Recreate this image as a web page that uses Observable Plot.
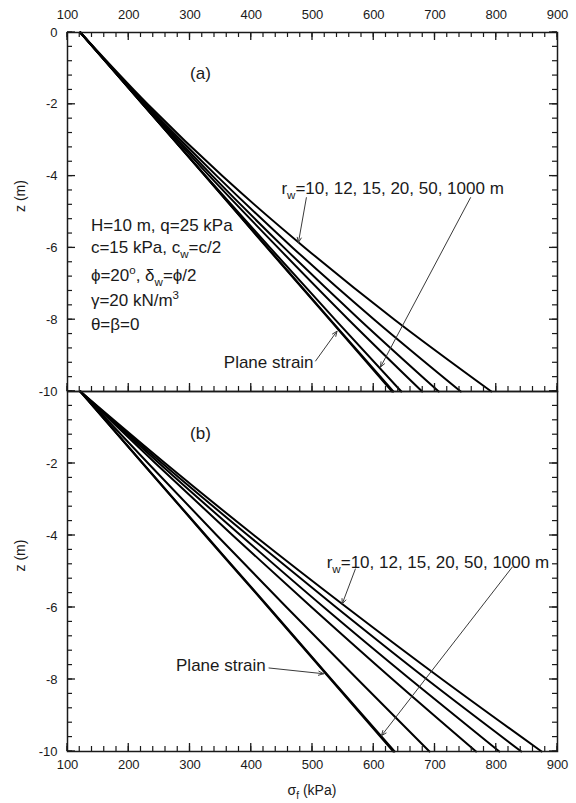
<!DOCTYPE html>
<html>
<head>
<meta charset="utf-8">
<script src="https://cdn.jsdelivr.net/npm/d3@7"></script>
<script src="https://cdn.jsdelivr.net/npm/@observablehq/plot@0.6"></script>
<style>
  body { margin: 0; background: #fff; }
  #fig { position: relative; width: 576px; height: 803px; background: #fff; }
  #fig svg { position: absolute; left: 0; }
</style>
</head>
<body>
<div id="fig"></div>
<script>
// Depth z (m) at which each curve is sampled
const depth = [0, -2, -4, -6, -8, -10];

// Curve order: plane strain, then wall radius r_w = 1000, 50, 20, 15, 12, 10 m
const curveNames = ["Plane strain", "1000", "50", "20", "15", "12", "10"];

// (a) passive pressure sigma_f (kPa)
const aPlaneStrain = [121, 223, 325, 426, 528, 630];
const aRw1000 = [121, 223, 325, 427, 529, 632];
const aRw50 = [121, 223, 326, 431, 537, 645];
const aRw20 = [121, 225, 332, 444, 559, 679];
const aRw15 = [121, 226, 337, 454, 577, 706];
const aRw12 = [121, 228, 344, 468, 601, 742];
const aRw10 = [121, 231, 353, 488, 634, 792];

// (b) passive pressure sigma_f (kPa)
const bPlaneStrain = [121, 223, 325, 428, 530, 632];
const bRw1000 = [121, 223, 326, 429, 531, 634];
const bRw50 = [121, 232, 344, 458, 574, 691];
const bRw20 = [121, 244, 370, 499, 631, 767];
const bRw15 = [121, 250, 383, 519, 660, 805];
const bRw12 = [121, 255, 395, 539, 687, 841];
const bRw10 = [121, 260, 405, 556, 712, 874];

// Axis ticks
const xTickLabels = [100, 200, 300, 400, 500, 600, 700, 800, 900];
const yTickLabelsA = [0, -2, -4, -6, -8, -10];
const yTickLabelsB = [-2, -4, -6, -8, -10];
const xMinorTicks = d3.range(100, 901, 20);
const yMinorTicks = d3.range(0, 26).map(i => -i * 0.4);

const FONT = "'Liberation Sans', Arial, Helvetica, sans-serif";
const INK = "#1a1a1a";

function rows(columns) {
  return columns.flatMap((vals, k) =>
    vals.map((s, i) => ({curve: curveNames[k], z: depth[i], s})));
}

const dataA = rows([aPlaneStrain, aRw1000, aRw50, aRw20, aRw15, aRw12, aRw10]);
const dataB = rows([bPlaneStrain, bRw1000, bRw50, bRw20, bRw15, bRw12, bRw10]);

const yFormat = d => String(d);
const curveStyle = {x: "s", y: "z", z: "curve", stroke: "#000", strokeWidth: 2, curve: "monotone-y"};
const arrowStyle = {x1: "x1", y1: "y1", x2: "x2", y2: "y2", stroke: "#3a3a3a", strokeWidth: 1, headLength: 8, headAngle: 45};

const chartA = Plot.plot({
  width: 576, height: 410,
  marginTop: 32, marginBottom: 19, marginLeft: 67, marginRight: 19,
  style: {background: "transparent", fontFamily: FONT, fontSize: "13px", color: INK},
  x: {domain: [100, 900]},
  y: {domain: [-10, 0]},
  marks: [
    Plot.line(dataA, curveStyle),
    Plot.arrow([
      {x1: 490, y1: -4.6, x2: 477, y2: -5.85},
      {x1: 758, y1: -4.6, x2: 611, y2: -9.32},
      {x1: 505, y1: -9.15, x2: 540, y2: -8.32}
    ], arrowStyle),
    Plot.frame({stroke: INK, strokeWidth: 1.5}),
    Plot.axisX({anchor: "top", ticks: xTickLabels, tickSize: 0, tickPadding: 14, label: null, fill: INK}),
    Plot.axisY({anchor: "left", ticks: yTickLabelsA, tickSize: 0, tickPadding: 10, tickFormat: yFormat, label: null, fill: INK}),
    Plot.text(["z (m)"], {frameAnchor: "left", dx: -47, rotate: -90, fontSize: 14, fill: INK})
  ]
});

const chartB = Plot.plot({
  width: 576, height: 422,
  marginTop: 10, marginBottom: 52, marginLeft: 67, marginRight: 19,
  style: {background: "transparent", fontFamily: FONT, fontSize: "13px", color: INK},
  x: {domain: [100, 900]},
  y: {domain: [-10, 0]},
  marks: [
    Plot.line(dataB, curveStyle),
    Plot.arrow([
      {x1: 570, y1: -4.93, x2: 548.5, y2: -5.9},
      {x1: 826, y1: -4.88, x2: 612.6, y2: -9.56},
      {x1: 429, y1: -7.68, x2: 518, y2: -7.84}
    ], arrowStyle),
    Plot.frame({stroke: INK, strokeWidth: 1.5}),
    Plot.axisX({anchor: "bottom", ticks: xTickLabels, tickSize: 0, tickPadding: 8, label: null, fill: INK}),
    Plot.axisY({anchor: "left", ticks: yTickLabelsB, tickSize: 0, tickPadding: 10, tickFormat: yFormat, label: null, fill: INK}),
    Plot.text(["z (m)"], {frameAnchor: "left", dx: -47, rotate: -90, fontSize: 14, fill: INK})
  ]
});

// Inward tick strokes on the frame edges, positioned with the chart's scales
function drawTicks(chart, {top = false, bottom = true}) {
  const sx = chart.scale("x"), sy = chart.scale("y");
  const x0 = sx.apply(100), x1 = sx.apply(900);
  const yTop = sy.apply(0), yBot = sy.apply(-10);
  const g = d3.select(chart).append("g").attr("stroke", INK).attr("fill", "none");
  const tick = (xa, ya, xb, yb, w) =>
    g.append("line").attr("x1", xa).attr("y1", ya).attr("x2", xb).attr("y2", yb).attr("stroke-width", w);
  for (const [vals, len, w] of [[yMinorTicks, 5, 1.2], [yTickLabelsA, 8, 1.3]]) {
    for (const v of vals) {
      const y = sy.apply(v);
      tick(x0, y, x0 + len, y, w);
      tick(x1, y, x1 - len, y, w);
    }
  }
  for (const [vals, len, w] of [[xMinorTicks, 5, 1.2], [xTickLabels, 8, 1.3]]) {
    for (const v of vals) {
      const x = sx.apply(v);
      if (top) tick(x, yTop, x, yTop + len, w);
      if (bottom) tick(x, yBot, x, yBot - len, w);
    }
  }
}

drawTicks(chartA, {top: true, bottom: true});
drawTicks(chartB, {top: false, bottom: true});

// Text with sub/superscripts, placed through the chart's own scales
function annotate(chart, items) {
  const sx = chart.scale("x"), sy = chart.scale("y");
  const svg = d3.select(chart);
  for (const {x, z, parts, size = 17} of items) {
    const t = svg.append("text")
      .attr("x", sx.apply(x))
      .attr("y", sy.apply(z) + size * 0.36)
      .attr("text-anchor", "start")
      .attr("font-family", FONT)
      .attr("font-size", size)
      .attr("fill", INK);
    let shift = 0;
    for (const p of parts) {
      const [str, mode] = typeof p === "string" ? [p, null] : p;
      const target = mode === "sub" ? size * 0.3 : mode === "sup" ? -size * 0.42 : 0;
      const ts = t.append("tspan").attr("dy", target - shift).text(str);
      if (mode) ts.attr("font-size", size * 0.68);
      shift = target;
    }
  }
}

const rwLabel = ["r", ["w", "sub"], "=10, 12, 15, 20, 50, 1000 m"];

annotate(chartA, [
  {x: 301, z: -1.14, parts: ["(a)"]},
  {x: 139, z: -5.38, parts: ["H=10 m, q=25 kPa"]},
  {x: 139, z: -5.99, parts: ["c=15 kPa, c", ["w", "sub"], "=c/2"]},
  {x: 139, z: -6.77, parts: ["\u03d5=20", ["o", "sup"], ", \u03b4", ["w", "sub"], "=\u03d5/2"]},
  {x: 139, z: -7.47, parts: ["\u03b3=20 kN/m", ["3", "sup"]]},
  {x: 139, z: -8.13, parts: ["\u03b8=\u03b2=0"]},
  {x: 450, z: -4.35, parts: rwLabel},
  {x: 356, z: -9.2, parts: ["Plane strain"]}
]);

annotate(chartB, [
  {x: 301, z: -1.17, parts: ["(b)"]},
  {x: 524, z: -4.74, parts: rwLabel},
  {x: 278, z: -7.61, parts: ["Plane strain"]}
]);

// x-axis title under the lower panel
{
  const sx = chartB.scale("x");
  const t = d3.select(chartB).append("text")
    .attr("x", (sx.apply(100) + sx.apply(900)) / 2)
    .attr("y", 414)
    .attr("text-anchor", "middle")
    .attr("font-family", FONT)
    .attr("font-size", 14)
    .attr("fill", INK);
  t.append("tspan").text("\u03c3");
  t.append("tspan").attr("dy", 4).attr("font-size", 10).text("f");
  t.append("tspan").attr("dy", -4).text(" (kPa)");
}

chartB.style.top = "381px";
chartA.style.top = "0px";
const fig = document.getElementById("fig");
fig.append(chartB);
fig.append(chartA);
</script>
</body>
</html>
